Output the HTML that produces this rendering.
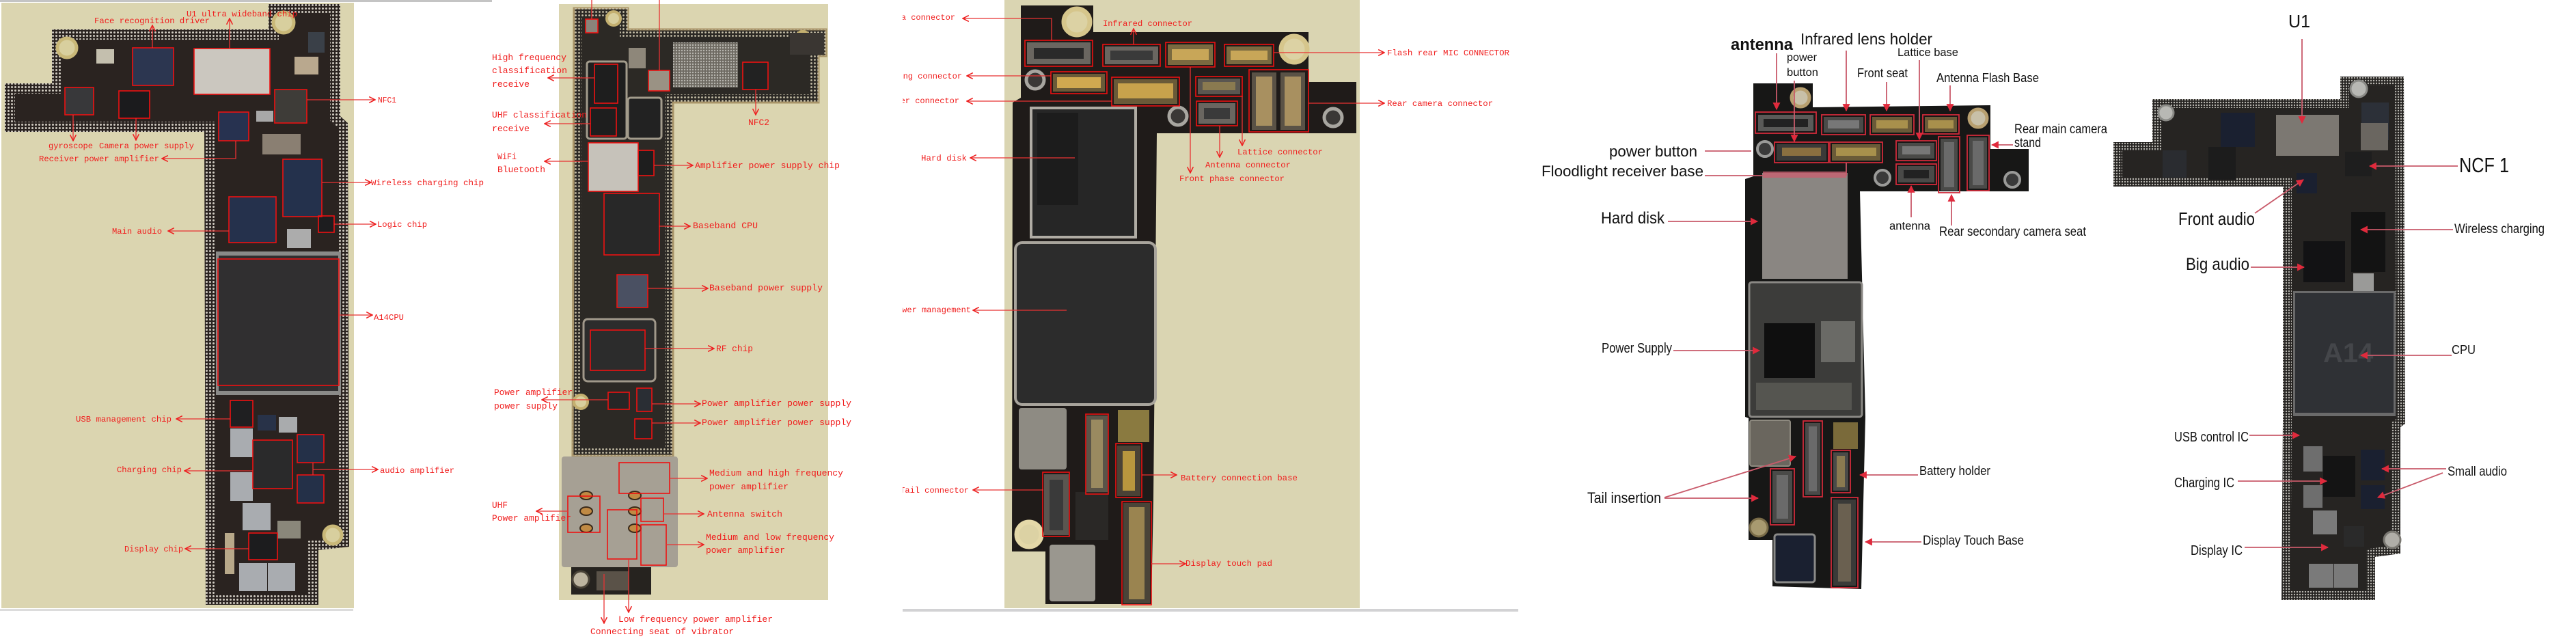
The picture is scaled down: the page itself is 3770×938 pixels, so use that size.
<!DOCTYPE html>
<html><head><meta charset="utf-8"><style>
html,body{margin:0;padding:0;background:#fff;}
svg{display:block;}
.r{font-family:"Liberation Mono",monospace;fill:#f01c1c;font-size:12px;}
.r13{font-family:"Liberation Mono",monospace;fill:#f01c1c;font-size:13px;}
.k{font-family:"Liberation Sans Narrow","Liberation Sans",sans-serif;fill:#111;}
.ln{stroke:#e83232;stroke-width:1.3;fill:none;}
.pk{stroke:#c85a6a;stroke-width:1.8;fill:none;}
.bx{fill:none;stroke:#ee1111;stroke-width:1.6;}
.bx2{fill:none;stroke:#d02a3a;stroke-width:1.8;}
</style></head><body>
<svg width="3770" height="938" viewBox="0 0 3770 938" xmlns="http://www.w3.org/2000/svg">
<defs>
<marker id="m" viewBox="0 0 10 10" refX="9" refY="5" markerWidth="11" markerHeight="11" markerUnits="userSpaceOnUse" orient="auto"><path d="M1,1L9,5L1,9" fill="none" stroke="#ee2020" stroke-width="1.4"/></marker>
<marker id="t" viewBox="0 0 10 10" refX="9" refY="5" markerWidth="11" markerHeight="11" markerUnits="userSpaceOnUse" orient="auto"><path d="M0,0L10,5L0,10z" fill="#e02a3c"/></marker>
<pattern id="dots" width="5" height="5" patternUnits="userSpaceOnUse"><circle cx="2.5" cy="2.5" r="1.5" fill="#cfcac0"/></pattern>
<pattern id="dots2" width="5" height="5" patternUnits="userSpaceOnUse"><circle cx="2.5" cy="2.5" r="1.4" fill="#c6bfa8"/></pattern>
<pattern id="dots3" width="4" height="4" patternUnits="userSpaceOnUse"><circle cx="2" cy="2" r="1.2" fill="#b8b6b0"/></pattern>
<clipPath id="c1"><polygon points="393,6 498,6 498,170 509,180 511,800 466,805 466,885 301,885 299,193 7,193 7,122 76,122 76,43 393,43"/></clipPath>
<clipPath id="c2"><polygon points="845,12 919,12 919,43 1209,43 1209,82 1198,82 1198,150 985,150 985,667 838,667 840,12"/></clipPath>
<clipPath id="cB"><polygon points="3425,112 3518,112 3520,620 3513,625 3513,810 3476,815 3476,878 3339,878 3341,617 3341,273 3093,273 3093,208 3150,208 3150,145 3425,145"/></clipPath>
<clipPath id="cl3"><rect x="1321" y="0" width="700" height="938"/></clipPath>
</defs>

<!-- ============ PANEL 1 ============ -->
<rect x="0" y="0" width="720" height="3" fill="#c4c4c4"/>
<rect x="2" y="4" width="516" height="886" fill="#dbd5b0"/>
<rect x="0" y="891" width="517" height="3" fill="#dcdcdc"/>
<polygon points="393,6 498,6 498,170 509,180 511,800 466,805 466,885 301,885 299,193 7,193 7,122 76,122 76,43 393,43" fill="#2a2320"/>
<polygon points="393,6 498,6 498,170 509,180 511,800 466,805 466,885 301,885 299,193 7,193 7,122 76,122 76,43 393,43" fill="none" stroke="url(#dots)" stroke-width="30" clip-path="url(#c1)"/>
<circle cx="98" cy="70" r="14" fill="#d8cf9e" stroke="#c9b878" stroke-width="5"/>
<circle cx="415" cy="33" r="15" fill="#d8cf9e" stroke="#c9b878" stroke-width="5"/>
<circle cx="487" cy="783" r="13" fill="#d8cf9e" stroke="#c9b878" stroke-width="5"/>
<!-- chips -->
<rect x="141" y="72" width="26" height="21" fill="#c4bfae"/>
<rect x="194" y="70" width="60" height="55" fill="#2c3650"/>
<rect x="284" y="71" width="111" height="67" fill="#cbc7bf"/>
<rect x="451" y="47" width="24" height="30" fill="#3a4048"/>
<rect x="431" y="83" width="35" height="26" fill="#b9a88e"/>
<rect x="95" y="128" width="42" height="40" fill="#38383a"/>
<rect x="174" y="133" width="45" height="40" fill="#1b1b1d"/>
<rect x="402" y="131" width="47" height="49" fill="#3e3c38"/>
<rect x="375" y="162" width="25" height="16" fill="#a8a8a8"/>
<rect x="320" y="164" width="44" height="42" fill="#273250"/>
<rect x="384" y="196" width="56" height="30" fill="#8a7f72"/>
<rect x="414" y="233" width="57" height="84" fill="#24314c"/>
<rect x="466" y="316" width="23" height="24" fill="#1d1d1f"/>
<rect x="335" y="288" width="69" height="67" fill="#25314c"/>
<rect x="420" y="335" width="35" height="28" fill="#acacac"/>
<rect x="316" y="368" width="183" height="210" fill="#8a8a88"/>
<rect x="320" y="374" width="175" height="198" fill="#302f30"/>
<rect x="337" y="586" width="33" height="39" fill="#1f1f21"/>
<rect x="377" y="607" width="27" height="23" fill="#283248"/>
<rect x="408" y="610" width="27" height="23" fill="#a9abad"/>
<rect x="337" y="627" width="33" height="42" fill="#a9acb0"/>
<rect x="370" y="644" width="58" height="71" fill="#2a2a2b"/>
<rect x="435" y="636" width="39" height="41" fill="#243048"/>
<rect x="435" y="695" width="39" height="41" fill="#243048"/>
<rect x="337" y="691" width="33" height="42" fill="#a9acb0"/>
<rect x="355" y="736" width="41" height="40" fill="#a9acb0"/>
<rect x="406" y="762" width="34" height="26" fill="#8a877a"/>
<rect x="364" y="780" width="42" height="39" fill="#1c1c1e"/>
<rect x="329" y="780" width="14" height="60" fill="#b8a98a"/>
<rect x="350" y="824" width="41" height="41" fill="#a9acb0"/>
<rect x="392" y="824" width="40" height="41" fill="#a9acb0"/>
<!-- red boxes -->
<rect class="bx" x="194" y="70" width="60" height="55"/>
<rect class="bx" x="284" y="71" width="111" height="67"/>
<rect class="bx" x="95" y="128" width="42" height="40"/>
<rect class="bx" x="174" y="133" width="45" height="40"/>
<rect class="bx" x="402" y="131" width="47" height="49"/>
<rect class="bx" x="320" y="164" width="44" height="42"/>
<rect class="bx" x="414" y="233" width="57" height="84"/>
<rect class="bx" x="466" y="316" width="23" height="24"/>
<rect class="bx" x="335" y="288" width="69" height="67"/>
<rect class="bx" x="319" y="379" width="177" height="185"/>
<rect class="bx" x="337" y="586" width="33" height="39"/>
<rect class="bx" x="370" y="644" width="58" height="71"/>
<rect class="bx" x="435" y="636" width="39" height="41"/>
<rect class="bx" x="435" y="695" width="39" height="41"/>
<rect class="bx" x="364" y="780" width="42" height="39"/>
<!-- lines -->
<line class="ln" x1="223" y1="70" x2="223" y2="37" marker-end="url(#m)"/>
<line class="ln" x1="336" y1="71" x2="336" y2="27" marker-end="url(#m)"/>
<line class="ln" x1="107" y1="168" x2="107" y2="206" marker-end="url(#m)"/>
<line class="ln" x1="199" y1="173" x2="199" y2="205" marker-end="url(#m)"/>
<polyline class="ln" points="345,206 345,232 237,232" marker-end="url(#m)"/>
<line class="ln" x1="449" y1="146" x2="549" y2="146" marker-end="url(#m)"/>
<line class="ln" x1="471" y1="267" x2="543" y2="267" marker-end="url(#m)"/>
<line class="ln" x1="489" y1="328" x2="550" y2="328" marker-end="url(#m)"/>
<line class="ln" x1="335" y1="338" x2="246" y2="338" marker-end="url(#m)"/>
<line class="ln" x1="496" y1="461" x2="545" y2="461" marker-end="url(#m)"/>
<line class="ln" x1="337" y1="613" x2="258" y2="613" marker-end="url(#m)"/>
<line class="ln" x1="370" y1="689" x2="270" y2="689" marker-end="url(#m)"/>
<line class="ln" x1="458" y1="677" x2="458" y2="695"/>
<line class="ln" x1="458" y1="687" x2="553" y2="687" marker-end="url(#m)"/>
<line class="ln" x1="364" y1="803" x2="271" y2="803" marker-end="url(#m)"/>
<!-- labels -->
<text class="r" x="138" y="34" textLength="169" lengthAdjust="spacingAndGlyphs">Face recognition driver</text>
<text class="r" x="273" y="24" textLength="162" lengthAdjust="spacingAndGlyphs">U1 ultra wideband chip</text>
<text class="r" x="71" y="217" textLength="65" lengthAdjust="spacingAndGlyphs">gyroscope</text>
<text class="r" x="145" y="217" textLength="139" lengthAdjust="spacingAndGlyphs">Camera power supply</text>
<text class="r" x="57" y="236" textLength="176" lengthAdjust="spacingAndGlyphs">Receiver power amplifier</text>
<text class="r" x="553" y="150" textLength="27" lengthAdjust="spacingAndGlyphs">NFC1</text>
<text class="r" x="543" y="271" textLength="165" lengthAdjust="spacingAndGlyphs">Wireless charging chip</text>
<text class="r" x="552" y="332" textLength="73" lengthAdjust="spacingAndGlyphs">Logic chip</text>
<text class="r" x="164" y="342" textLength="73" lengthAdjust="spacingAndGlyphs">Main audio</text>
<text class="r" x="547" y="468" textLength="44" lengthAdjust="spacingAndGlyphs">A14CPU</text>
<text class="r" x="111" y="617" textLength="140" lengthAdjust="spacingAndGlyphs">USB management chip</text>
<text class="r" x="171" y="691" textLength="95" lengthAdjust="spacingAndGlyphs">Charging chip</text>
<text class="r" x="556" y="692" textLength="109" lengthAdjust="spacingAndGlyphs">audio amplifier</text>
<text class="r" x="182" y="807" textLength="86" lengthAdjust="spacingAndGlyphs">Display chip</text>

<!-- ============ PANEL 2 ============ -->
<rect x="818" y="6" width="394" height="872" fill="#dbd5b0"/>
<polygon points="845,12 919,12 919,43 1209,43 1209,82 1198,82 1198,150 985,150 985,667 838,667 840,12" fill="#2c2925" stroke="#a89468" stroke-width="3"/>
<polygon points="845,12 919,12 919,43 1209,43 1209,82 1198,82 1198,150 985,150 985,667 838,667 840,12" fill="none" stroke="url(#dots2)" stroke-width="24" clip-path="url(#c2)"/>
<circle cx="898" cy="27" r="10" fill="#d8cf9e" stroke="#c4b070" stroke-width="4"/>
<circle cx="1175" cy="56" r="10" fill="#d8cf9e" stroke="#c4b070" stroke-width="4"/>
<rect x="985" y="62" width="95" height="66" fill="#6e6a62"/>
<rect x="985" y="62" width="95" height="66" fill="url(#dots3)"/>
<rect x="1156" y="48" width="50" height="32" fill="#3a3632"/>
<rect x="857" y="28" width="18" height="20" fill="#8a847a"/>
<rect x="859" y="90" width="58" height="113" rx="4" fill="#1e1e1e" stroke="#a39c8c" stroke-width="3"/>
<rect x="919" y="143" width="49" height="60" rx="4" fill="#222" stroke="#a39c8c" stroke-width="3"/>
<rect x="949" y="103" width="31" height="30" fill="#9a9284"/>
<rect x="920" y="70" width="25" height="30" fill="#8e877a"/>
<rect x="1087" y="91" width="37" height="40" fill="#222"/>
<rect x="861" y="209" width="73" height="71" fill="#c6c2ba"/>
<rect x="934" y="220" width="23" height="37" fill="#1e1e1e"/>
<rect x="884" y="283" width="81" height="90" fill="#282828"/>
<rect x="903" y="402" width="45" height="48" fill="#4a5062"/>
<rect x="854" y="467" width="105" height="91" rx="6" fill="#2c2c2c" stroke="#a0988a" stroke-width="3"/>
<circle cx="850" cy="588" r="10" fill="#d8cf9e" stroke="#c4b070" stroke-width="4"/>
<rect x="890" y="574" width="31" height="25" fill="#262626"/>
<rect x="932" y="568" width="22" height="34" fill="#2a2e34"/>
<rect x="929" y="613" width="25" height="29" fill="#262626"/>
<rect x="822" y="668" width="170" height="162" rx="4" fill="#a6a094"/>
<ellipse cx="858" cy="725" rx="9" ry="6" fill="#c08a44" stroke="#3a2a1a" stroke-width="2"/>
<ellipse cx="858" cy="748" rx="9" ry="6" fill="#c08a44" stroke="#3a2a1a" stroke-width="2"/>
<ellipse cx="858" cy="773" rx="9" ry="6" fill="#c08a44" stroke="#3a2a1a" stroke-width="2"/>
<ellipse cx="929" cy="725" rx="9" ry="6" fill="#c08a44" stroke="#3a2a1a" stroke-width="2"/>
<ellipse cx="929" cy="748" rx="9" ry="6" fill="#c08a44" stroke="#3a2a1a" stroke-width="2"/>
<ellipse cx="929" cy="773" rx="9" ry="6" fill="#c08a44" stroke="#3a2a1a" stroke-width="2"/>
<rect x="836" y="830" width="117" height="40" fill="#26231f"/>
<rect x="873" y="836" width="47" height="28" fill="#5a5248"/>
<circle cx="850" cy="848" r="12" fill="#bdb5a0" stroke="#4a4438" stroke-width="3"/>
<!-- red boxes -->
<rect class="bx" x="857" y="28" width="18" height="20"/>
<rect class="bx" x="870" y="94" width="34" height="57"/>
<rect class="bx" x="864" y="158" width="38" height="41"/>
<rect class="bx" x="949" y="103" width="31" height="30"/>
<rect class="bx" x="1087" y="91" width="37" height="40"/>
<rect class="bx" x="861" y="209" width="73" height="71"/>
<rect class="bx" x="934" y="220" width="23" height="37"/>
<rect class="bx" x="884" y="283" width="81" height="90"/>
<rect class="bx" x="903" y="402" width="45" height="48"/>
<rect class="bx" x="864" y="483" width="80" height="59"/>
<rect class="bx" x="890" y="574" width="31" height="25"/>
<rect class="bx" x="932" y="568" width="22" height="34"/>
<rect class="bx" x="929" y="613" width="25" height="29"/>
<rect class="bx" x="906" y="677" width="74" height="45"/>
<rect class="bx" x="831" y="726" width="47" height="53"/>
<rect class="bx" x="938" y="729" width="33" height="34"/>
<rect class="bx" x="889" y="746" width="43" height="72"/>
<rect class="bx" x="938" y="768" width="37" height="59"/>
<!-- lines -->
<line class="ln" x1="866" y1="28" x2="866" y2="0"/>
<line class="ln" x1="965" y1="103" x2="965" y2="0"/>
<line class="ln" x1="870" y1="114" x2="802" y2="114" marker-end="url(#m)"/>
<line class="ln" x1="864" y1="181" x2="797" y2="181" marker-end="url(#m)"/>
<line class="ln" x1="861" y1="236" x2="797" y2="236" marker-end="url(#m)"/>
<line class="ln" x1="957" y1="242" x2="1014" y2="242" marker-end="url(#m)"/>
<line class="ln" x1="1106" y1="131" x2="1106" y2="168" marker-end="url(#m)"/>
<line class="ln" x1="965" y1="331" x2="1010" y2="331" marker-end="url(#m)"/>
<line class="ln" x1="948" y1="422" x2="1036" y2="422" marker-end="url(#m)"/>
<line class="ln" x1="944" y1="510" x2="1045" y2="510" marker-end="url(#m)"/>
<line class="ln" x1="890" y1="585" x2="793" y2="585" marker-end="url(#m)"/>
<line class="ln" x1="954" y1="591" x2="1025" y2="591" marker-end="url(#m)"/>
<line class="ln" x1="954" y1="619" x2="1025" y2="619" marker-end="url(#m)"/>
<line class="ln" x1="980" y1="700" x2="1035" y2="700" marker-end="url(#m)"/>
<line class="ln" x1="831" y1="748" x2="785" y2="748" marker-end="url(#m)"/>
<line class="ln" x1="971" y1="752" x2="1030" y2="752" marker-end="url(#m)"/>
<line class="ln" x1="975" y1="797" x2="1030" y2="797" marker-end="url(#m)"/>
<line class="ln" x1="920" y1="818" x2="920" y2="896" marker-end="url(#m)"/>
<line class="ln" x1="884" y1="840" x2="884" y2="912" marker-end="url(#m)"/>
<!-- labels -->
<text class="r13" x="720" y="88" textLength="109" lengthAdjust="spacingAndGlyphs">High frequency</text>
<text class="r13" x="720" y="107" textLength="110" lengthAdjust="spacingAndGlyphs">classification</text>
<text class="r13" x="720" y="127" textLength="55" lengthAdjust="spacingAndGlyphs">receive</text>
<text class="r13" x="720" y="172" textLength="139" lengthAdjust="spacingAndGlyphs">UHF classification</text>
<text class="r13" x="720" y="192" textLength="55" lengthAdjust="spacingAndGlyphs">receive</text>
<text class="r13" x="728" y="233" textLength="28" lengthAdjust="spacingAndGlyphs">WiFi</text>
<text class="r13" x="728" y="252" textLength="70" lengthAdjust="spacingAndGlyphs">Bluetooth</text>
<text class="r13" x="1017" y="246" textLength="212" lengthAdjust="spacingAndGlyphs">Amplifier power supply chip</text>
<text class="r13" x="1095" y="183" textLength="31" lengthAdjust="spacingAndGlyphs">NFC2</text>
<text class="r13" x="1014" y="334" textLength="95" lengthAdjust="spacingAndGlyphs">Baseband CPU</text>
<text class="r13" x="1038" y="425" textLength="166" lengthAdjust="spacingAndGlyphs">Baseband power supply</text>
<text class="r13" x="1048" y="514" textLength="54" lengthAdjust="spacingAndGlyphs">RF chip</text>
<text class="r13" x="723" y="578" textLength="115" lengthAdjust="spacingAndGlyphs">Power amplifier</text>
<text class="r13" x="723" y="598" textLength="93" lengthAdjust="spacingAndGlyphs">power supply</text>
<text class="r13" x="1027" y="594" textLength="219" lengthAdjust="spacingAndGlyphs">Power amplifier power supply</text>
<text class="r13" x="1027" y="622" textLength="219" lengthAdjust="spacingAndGlyphs">Power amplifier power supply</text>
<text class="r13" x="1038" y="696" textLength="196" lengthAdjust="spacingAndGlyphs">Medium and high frequency</text>
<text class="r13" x="1038" y="716" textLength="116" lengthAdjust="spacingAndGlyphs">power amplifier</text>
<text class="r13" x="720" y="743" textLength="23" lengthAdjust="spacingAndGlyphs">UHF</text>
<text class="r13" x="720" y="762" textLength="116" lengthAdjust="spacingAndGlyphs">Power amplifier</text>
<text class="r13" x="1035" y="756" textLength="110" lengthAdjust="spacingAndGlyphs">Antenna switch</text>
<text class="r13" x="1033" y="790" textLength="188" lengthAdjust="spacingAndGlyphs">Medium and low frequency</text>
<text class="r13" x="1033" y="809" textLength="116" lengthAdjust="spacingAndGlyphs">power amplifier</text>
<text class="r13" x="905" y="910" textLength="226" lengthAdjust="spacingAndGlyphs">Low frequency power amplifier</text>
<text class="r13" x="864" y="928" textLength="210" lengthAdjust="spacingAndGlyphs">Connecting seat of vibrator</text>

<!-- ============ PANEL 3 ============ -->
<rect x="1470" y="0" width="520" height="890" fill="#dad5b2"/>
<rect x="1321" y="891" width="901" height="4" fill="#d2d2d4"/>
<polygon points="1494,8 1600,8 1600,47 1915,47 1915,120 1985,120 1985,195 1693,195 1688,730 1685,884 1530,884 1530,807 1481,807 1482,150 1494,143" fill="#1f1b19"/>
<circle cx="1576" cy="32" r="19" fill="#dcd2a4" stroke="#d6c68c" stroke-width="7"/>
<circle cx="1894" cy="72" r="19" fill="#dcd2a4" stroke="#d6c68c" stroke-width="7"/>
<circle cx="1506" cy="782" r="18" fill="#dcd2a4" stroke="#e4d8a8" stroke-width="7"/>
<circle cx="1515" cy="117" r="13" fill="#3a3836" stroke="#a8a6a0" stroke-width="5"/>
<circle cx="1724" cy="170" r="13" fill="#3a3836" stroke="#a8a6a0" stroke-width="5"/>
<circle cx="1951" cy="172" r="13" fill="#3a3836" stroke="#a8a6a0" stroke-width="5"/>
<rect x="1509" y="158" width="153" height="189" fill="#262626" stroke="#b0aca4" stroke-width="4"/>
<rect x="1518" y="165" width="60" height="135" fill="#1c1c1c"/>
<rect x="1486" y="355" width="205" height="237" rx="10" fill="#2c2c2c" stroke="#a8a49c" stroke-width="4"/>
<!-- connectors top -->
<rect x="1503" y="62" width="93" height="32" fill="#6a6660"/><rect x="1513" y="70" width="73" height="16" fill="#2a2a2a"/>
<rect x="1617" y="68" width="78" height="26" fill="#6a6660"/><rect x="1625" y="74" width="62" height="14" fill="#3a3a3a"/>
<rect x="1709" y="65" width="66" height="30" fill="#7a6a40"/><rect x="1715" y="72" width="54" height="16" fill="#c8a658"/>
<rect x="1795" y="68" width="66" height="26" fill="#7a6a40"/><rect x="1801" y="74" width="54" height="14" fill="#c8a658"/>
<rect x="1541" y="108" width="76" height="26" fill="#6a5a38"/><rect x="1547" y="113" width="64" height="16" fill="#d0a850"/>
<rect x="1630" y="116" width="93" height="36" fill="#6a5a38"/><rect x="1636" y="122" width="81" height="22" fill="#c8a24c"/>
<rect x="1753" y="115" width="62" height="23" fill="#5a5650"/><rect x="1760" y="120" width="48" height="12" fill="#8a7a50"/>
<rect x="1754" y="151" width="54" height="30" fill="#6a6660"/><rect x="1762" y="158" width="38" height="16" fill="#3a3a3a"/>
<rect x="1832" y="106" width="36" height="84" fill="#5a5246"/><rect x="1838" y="112" width="24" height="72" fill="#a89060"/>
<rect x="1874" y="106" width="36" height="84" fill="#5a5246"/><rect x="1880" y="112" width="24" height="72" fill="#a89060"/>
<!-- lower parts -->
<rect x="1491" y="597" width="70" height="90" rx="4" fill="#8e8b83"/>
<rect x="1590" y="608" width="31" height="113" fill="#5a5448"/><rect x="1597" y="614" width="17" height="100" fill="#9a8a60"/>
<rect x="1636" y="600" width="46" height="47" fill="#8a7a40"/>
<rect x="1635" y="652" width="34" height="74" fill="#4a4236"/><rect x="1643" y="660" width="18" height="58" fill="#b8963e"/>
<rect x="1528" y="694" width="36" height="89" fill="#5a5650"/><rect x="1536" y="702" width="20" height="74" fill="#3a3a3a"/>
<rect x="1574" y="720" width="48" height="70" fill="#2a2826"/>
<rect x="1536" y="797" width="67" height="83" rx="4" fill="#9a978f"/>
<rect x="1644" y="736" width="39" height="147" fill="#4a4438"/><rect x="1652" y="742" width="23" height="135" fill="#9a8450"/>
<!-- red boxes -->
<rect class="bx" x="1500" y="59" width="99" height="38"/>
<rect class="bx" x="1614" y="65" width="84" height="32"/>
<rect class="bx" x="1706" y="62" width="72" height="36"/>
<rect class="bx" x="1792" y="65" width="72" height="32"/>
<rect class="bx" x="1538" y="105" width="82" height="32"/>
<rect class="bx" x="1627" y="113" width="99" height="42"/>
<rect class="bx" x="1750" y="112" width="68" height="29"/>
<rect class="bx" x="1751" y="148" width="60" height="36"/>
<rect class="bx" x="1828" y="102" width="87" height="91"/>
<rect class="bx" x="1589" y="606" width="33" height="117"/>
<rect class="bx" x="1633" y="649" width="38" height="79"/>
<rect class="bx" x="1526" y="691" width="39" height="94"/>
<rect class="bx" x="1642" y="734" width="43" height="151"/>
<!-- lines -->
<polyline class="ln" points="1539,59 1539,27 1409,27" marker-end="url(#m)"/>
<line class="ln" x1="1538" y1="111" x2="1415" y2="111" marker-end="url(#m)"/>
<line class="ln" x1="1627" y1="148" x2="1415" y2="148" marker-end="url(#m)"/>
<line class="ln" x1="1573" y1="231" x2="1420" y2="231" marker-end="url(#m)"/>
<line class="ln" x1="1561" y1="454" x2="1424" y2="454" marker-end="url(#m)"/>
<line class="ln" x1="1527" y1="717" x2="1424" y2="717" marker-end="url(#m)"/>
<line class="ln" x1="1659" y1="65" x2="1659" y2="42" marker-end="url(#m)"/>
<line class="ln" x1="1864" y1="77" x2="2026" y2="77" marker-end="url(#m)"/>
<line class="ln" x1="1915" y1="151" x2="2026" y2="151" marker-end="url(#m)"/>
<line class="ln" x1="1818" y1="141" x2="1818" y2="213" marker-end="url(#m)"/>
<line class="ln" x1="1785" y1="184" x2="1785" y2="230" marker-end="url(#m)"/>
<line class="ln" x1="1742" y1="98" x2="1742" y2="253" marker-end="url(#m)"/>
<line class="ln" x1="1671" y1="695" x2="1722" y2="695" marker-end="url(#m)"/>
<line class="ln" x1="1685" y1="825" x2="1735" y2="825" marker-end="url(#m)"/>
<!-- labels -->
<g clip-path="url(#cl3)">
<text class="r" x="1398" y="29" text-anchor="end">Camera connector</text>
<text class="r" x="1408" y="115" text-anchor="end">Charging connector</text>
<text class="r" x="1404" y="151" text-anchor="end">Speaker connector</text>
<text class="r" x="1421" y="457" text-anchor="end">Power management</text>
<text class="r" x="1418" y="721" text-anchor="end">Tail connector</text>
</g>
<text class="r" x="1348" y="235" textLength="67" lengthAdjust="spacingAndGlyphs">Hard disk</text>
<text class="r" x="1614" y="38" textLength="131" lengthAdjust="spacingAndGlyphs">Infrared connector</text>
<text class="r" x="2030" y="81" textLength="179" lengthAdjust="spacingAndGlyphs">Flash rear MIC CONNECTOR</text>
<text class="r" x="2030" y="155" textLength="155" lengthAdjust="spacingAndGlyphs">Rear camera connector</text>
<text class="r" x="1811" y="226" textLength="125" lengthAdjust="spacingAndGlyphs">Lattice connector</text>
<text class="r" x="1764" y="245" textLength="125" lengthAdjust="spacingAndGlyphs">Antenna connector</text>
<text class="r" x="1726" y="265" textLength="154" lengthAdjust="spacingAndGlyphs">Front phase connector</text>
<text class="r" x="1728" y="703" textLength="171" lengthAdjust="spacingAndGlyphs">Battery connection base</text>
<text class="r" x="1735" y="828" textLength="127" lengthAdjust="spacingAndGlyphs">Display touch pad</text>

<!-- ============ PANEL 4 BOARD A ============ -->
<polygon points="2566,122 2653,122 2653,157 2913,154 2913,218 2969,218 2969,280 2722,280 2730,610 2724,862 2594,858 2594,790 2559,790 2559,612 2554,610 2554,262 2566,258" fill="#171716"/>
<circle cx="2635" cy="143" r="13" fill="#c8c0a8" stroke="#b8a070" stroke-width="5"/>
<circle cx="2895" cy="173" r="13" fill="#c8c0a8" stroke="#b8a070" stroke-width="5"/>
<circle cx="2583" cy="218" r="11" fill="#3a3a3a" stroke="#9a9a98" stroke-width="4"/>
<circle cx="2755" cy="260" r="11" fill="#3a3a3a" stroke="#9a9a98" stroke-width="4"/>
<circle cx="2945" cy="263" r="11" fill="#3a3a3a" stroke="#9a9a98" stroke-width="4"/>
<rect x="2579" y="253" width="125" height="155" fill="#8a8682"/>
<rect x="2580" y="251" width="122" height="9" fill="#c86070" opacity="0.8"/>
<rect x="2560" y="413" width="165" height="197" rx="4" fill="#3c3c3a" stroke="#8a8884" stroke-width="3"/>
<rect x="2582" y="473" width="74" height="80" fill="#0f0f0f"/>
<rect x="2665" y="470" width="50" height="60" fill="#6a6a66"/>
<rect x="2570" y="560" width="140" height="40" fill="#555550"/>
<rect x="2561" y="615" width="59" height="67" rx="3" fill="#6a665e" stroke="#8e8a80" stroke-width="2"/>
<rect x="2683" y="618" width="36" height="39" fill="#7a6a3a"/>
<rect x="2597" y="782" width="59" height="70" rx="4" fill="#1a2030" stroke="#8a8a88" stroke-width="3"/>
<circle cx="2574" cy="772" r="13" fill="#a89a70" stroke="#7a6c48" stroke-width="3"/>
<!-- connectors A -->
<rect x="2573" y="168" width="81" height="24" fill="#5a5a58"/><rect x="2581" y="174" width="65" height="12" fill="#222"/>
<rect x="2669" y="171" width="58" height="23" fill="#4a4a48"/><rect x="2675" y="176" width="46" height="12" fill="#777"/>
<rect x="2740" y="171" width="58" height="23" fill="#6a5a38"/><rect x="2746" y="176" width="46" height="12" fill="#a8904c"/>
<rect x="2817" y="171" width="47" height="22" fill="#6a5a38"/><rect x="2822" y="176" width="37" height="12" fill="#a8904c"/>
<rect x="2600" y="211" width="73" height="24" fill="#3a3a38"/><rect x="2608" y="216" width="57" height="12" fill="#8a7040"/>
<rect x="2681" y="211" width="71" height="24" fill="#6a5a38"/><rect x="2687" y="216" width="59" height="12" fill="#a8904c"/>
<rect x="2778" y="209" width="53" height="23" fill="#4a4a48"/><rect x="2784" y="214" width="41" height="12" fill="#777"/>
<rect x="2778" y="243" width="53" height="24" fill="#4a4a48"/><rect x="2786" y="249" width="37" height="12" fill="#222"/>
<rect x="2840" y="203" width="25" height="76" fill="#4a4a48"/><rect x="2845" y="208" width="15" height="66" fill="#6a6a6a"/>
<rect x="2882" y="201" width="26" height="75" fill="#4a4a48"/><rect x="2887" y="206" width="16" height="65" fill="#6a6a6a"/>
<rect x="2642" y="619" width="22" height="105" fill="#4a4a48"/><rect x="2647" y="624" width="12" height="95" fill="#6a6a6a"/>
<rect x="2683" y="662" width="22" height="56" fill="#4a4a48"/><rect x="2688" y="667" width="12" height="46" fill="#8a7a50"/>
<rect x="2683" y="731" width="33" height="126" fill="#3a3a38"/><rect x="2690" y="737" width="19" height="114" fill="#6a6050"/>
<rect x="2594" y="689" width="29" height="76" fill="#4a4a48"/><rect x="2600" y="695" width="17" height="64" fill="#6a6a6a"/>
<!-- boxes A -->
<rect class="bx2" x="2569" y="164" width="89" height="31"/>
<rect class="bx2" x="2666" y="168" width="64" height="29"/>
<rect class="bx2" x="2737" y="168" width="64" height="29"/>
<rect class="bx2" x="2814" y="168" width="53" height="28"/>
<rect class="bx2" x="2597" y="208" width="79" height="30"/>
<rect class="bx2" x="2678" y="208" width="77" height="30"/>
<rect class="bx2" x="2775" y="206" width="59" height="29"/>
<rect class="bx2" x="2775" y="240" width="59" height="30"/>
<rect class="bx2" x="2837" y="200" width="31" height="82"/>
<rect class="bx2" x="2879" y="198" width="32" height="81"/>
<rect class="bx2" x="2639" y="616" width="28" height="111"/>
<rect class="bx2" x="2680" y="659" width="28" height="62"/>
<rect class="bx2" x="2680" y="728" width="39" height="132"/>
<rect class="bx2" x="2591" y="686" width="35" height="82"/>
<!-- lines A -->
<line class="pk" x1="2600" y1="78" x2="2600" y2="160" marker-end="url(#t)"/>
<line class="pk" x1="2626" y1="118" x2="2626" y2="207" marker-end="url(#t)"/>
<line class="pk" x1="2702" y1="74" x2="2702" y2="162" marker-end="url(#t)"/>
<line class="pk" x1="2761" y1="120" x2="2761" y2="162" marker-end="url(#t)"/>
<line class="pk" x1="2809" y1="88" x2="2809" y2="204" marker-end="url(#t)"/>
<line class="pk" x1="2854" y1="125" x2="2854" y2="162" marker-end="url(#t)"/>
<line class="pk" x1="2946" y1="212" x2="2915" y2="212" marker-end="url(#t)"/>
<line class="pk" x1="2495" y1="221" x2="2563" y2="221"/>
<line class="pk" x1="2495" y1="257" x2="2580" y2="257"/>
<line class="pk" x1="2702" y1="238" x2="2702" y2="257"/>
<line class="pk" x1="2441" y1="324" x2="2572" y2="324" marker-end="url(#t)"/>
<line class="pk" x1="2797" y1="318" x2="2797" y2="272" marker-end="url(#t)"/>
<line class="pk" x1="2856" y1="330" x2="2856" y2="285" marker-end="url(#t)"/>
<line class="pk" x1="2449" y1="513" x2="2575" y2="513" marker-end="url(#t)"/>
<line class="pk" x1="2436" y1="728" x2="2628" y2="668" marker-end="url(#t)"/>
<line class="pk" x1="2436" y1="729" x2="2573" y2="729" marker-end="url(#t)"/>
<line class="pk" x1="2807" y1="695" x2="2722" y2="695" marker-end="url(#t)"/>
<line class="pk" x1="2812" y1="793" x2="2730" y2="793" marker-end="url(#t)"/>
<!-- labels A -->
<text class="k" x="2533" y="73" font-size="24" font-weight="bold" textLength="91" lengthAdjust="spacingAndGlyphs">antenna</text>
<text class="k" x="2635" y="65" font-size="23" textLength="193" lengthAdjust="spacingAndGlyphs">Infrared lens holder</text>
<text class="k" x="2615" y="89" font-size="16" textLength="44" lengthAdjust="spacingAndGlyphs">power</text>
<text class="k" x="2615" y="111" font-size="16" textLength="46" lengthAdjust="spacingAndGlyphs">button</text>
<text class="k" x="2777" y="82" font-size="17" textLength="89" lengthAdjust="spacingAndGlyphs">Lattice base</text>
<text class="k" x="2718" y="113" font-size="18" textLength="74" lengthAdjust="spacingAndGlyphs">Front seat</text>
<text class="k" x="2834" y="120" font-size="18" textLength="150" lengthAdjust="spacingAndGlyphs">Antenna Flash Base</text>
<text class="k" x="2948" y="195" font-size="19" textLength="136" lengthAdjust="spacingAndGlyphs">Rear main camera</text>
<text class="k" x="2948" y="215" font-size="19" textLength="39" lengthAdjust="spacingAndGlyphs">stand</text>
<text class="k" x="2355" y="229" font-size="22" textLength="129" lengthAdjust="spacingAndGlyphs">power button</text>
<text class="k" x="2256" y="258" font-size="22" textLength="237" lengthAdjust="spacingAndGlyphs">Floodlight receiver base</text>
<text class="k" x="2343" y="327" font-size="24" textLength="93" lengthAdjust="spacingAndGlyphs">Hard disk</text>
<text class="k" x="2765" y="336" font-size="17" textLength="60" lengthAdjust="spacingAndGlyphs">antenna</text>
<text class="k" x="2838" y="345" font-size="19" textLength="215" lengthAdjust="spacingAndGlyphs">Rear secondary camera seat</text>
<text class="k" x="2344" y="516" font-size="20" textLength="103" lengthAdjust="spacingAndGlyphs">Power Supply</text>
<text class="k" x="2323" y="736" font-size="22" textLength="108" lengthAdjust="spacingAndGlyphs">Tail insertion</text>
<text class="k" x="2809" y="695" font-size="18" textLength="104" lengthAdjust="spacingAndGlyphs">Battery holder</text>
<text class="k" x="2814" y="797" font-size="19" textLength="148" lengthAdjust="spacingAndGlyphs">Display Touch Base</text>

<!-- ============ PANEL 4 BOARD B ============ -->
<polygon points="3425,112 3518,112 3520,620 3513,625 3513,810 3476,815 3476,878 3339,878 3341,617 3341,273 3093,273 3093,208 3150,208 3150,145 3425,145" fill="#262422"/>
<polygon points="3425,112 3518,112 3520,620 3513,625 3513,810 3476,815 3476,878 3339,878 3341,617 3341,273 3093,273 3093,208 3150,208 3150,145 3425,145" fill="none" stroke="url(#dots3)" stroke-width="26" clip-path="url(#cB)"/>
<circle cx="3452" cy="130" r="12" fill="#b8b8b4" stroke="#8a8a86" stroke-width="3"/>
<circle cx="3170" cy="165" r="11" fill="#b8b8b4" stroke="#8a8a86" stroke-width="3"/>
<circle cx="3501" cy="790" r="12" fill="#b0aea8" stroke="#7a7872" stroke-width="3"/>
<rect x="3331" y="168" width="92" height="60" fill="#7c7872"/>
<rect x="3250" y="165" width="50" height="50" fill="#1a2030"/>
<rect x="3165" y="220" width="35" height="40" fill="#2a2c30"/>
<rect x="3232" y="215" width="40" height="48" fill="#1c1c1c"/>
<rect x="3456" y="150" width="40" height="55" fill="#2c3038"/>
<rect x="3455" y="180" width="40" height="40" fill="#6a6660"/>
<rect x="3432" y="222" width="39" height="36" fill="#1e1e1e"/>
<rect x="3361" y="253" width="30" height="30" fill="#1a2030"/>
<rect x="3441" y="310" width="50" height="88" fill="#131313"/>
<rect x="3371" y="353" width="61" height="60" fill="#121214"/>
<rect x="3444" y="400" width="30" height="28" fill="#9a9a98"/>
<rect x="3356" y="426" width="150" height="183" fill="#6a6a6a"/>
<rect x="3359" y="429" width="144" height="175" fill="#2f3135"/>
<text x="3400" y="530" font-family="Liberation Sans,sans-serif" font-size="40" font-weight="bold" fill="#44464a">A14</text>
<rect x="3371" y="653" width="28" height="37" fill="#6e6e6e"/>
<rect x="3371" y="710" width="28" height="33" fill="#6e6e6e"/>
<rect x="3400" y="667" width="47" height="60" fill="#141414"/>
<rect x="3455" y="658" width="35" height="45" fill="#1a2030"/>
<rect x="3455" y="710" width="35" height="35" fill="#1a2030"/>
<rect x="3385" y="747" width="35" height="35" fill="#7a7a7a"/>
<rect x="3430" y="770" width="30" height="30" fill="#2a2a2a"/>
<rect x="3379" y="825" width="36" height="35" fill="#7a7a7a"/>
<rect x="3416" y="825" width="35" height="35" fill="#7a7a7a"/>
<!-- lines B -->
<line class="pk" x1="3369" y1="57" x2="3369" y2="180" marker-end="url(#t)"/>
<line class="pk" x1="3597" y1="243" x2="3468" y2="243" marker-end="url(#t)"/>
<line class="pk" x1="3300" y1="312" x2="3371" y2="263" marker-end="url(#t)"/>
<line class="pk" x1="3590" y1="336" x2="3455" y2="336" marker-end="url(#t)"/>
<line class="pk" x1="3294" y1="391" x2="3372" y2="391" marker-end="url(#t)"/>
<line class="pk" x1="3588" y1="520" x2="3455" y2="520" marker-end="url(#t)"/>
<line class="pk" x1="3292" y1="637" x2="3365" y2="637" marker-end="url(#t)"/>
<line class="pk" x1="3580" y1="686" x2="3486" y2="686" marker-end="url(#t)"/>
<line class="pk" x1="3575" y1="692" x2="3480" y2="728" marker-end="url(#t)"/>
<line class="pk" x1="3275" y1="704" x2="3405" y2="704" marker-end="url(#t)"/>
<line class="pk" x1="3285" y1="801" x2="3407" y2="801" marker-end="url(#t)"/>
<!-- labels B -->
<text class="k" x="3349" y="40" font-size="26" textLength="32" lengthAdjust="spacingAndGlyphs">U1</text>
<text class="k" x="3599" y="252" font-size="31" textLength="73" lengthAdjust="spacingAndGlyphs">NCF 1</text>
<text class="k" x="3188" y="329" font-size="26" textLength="112" lengthAdjust="spacingAndGlyphs">Front audio</text>
<text class="k" x="3592" y="341" font-size="19" textLength="132" lengthAdjust="spacingAndGlyphs">Wireless charging</text>
<text class="k" x="3199" y="395" font-size="25" textLength="93" lengthAdjust="spacingAndGlyphs">Big audio</text>
<text class="k" x="3588" y="518" font-size="18" textLength="35" lengthAdjust="spacingAndGlyphs">CPU</text>
<text class="k" x="3182" y="646" font-size="20" textLength="109" lengthAdjust="spacingAndGlyphs">USB control IC</text>
<text class="k" x="3582" y="696" font-size="19" textLength="87" lengthAdjust="spacingAndGlyphs">Small audio</text>
<text class="k" x="3182" y="713" font-size="20" textLength="88" lengthAdjust="spacingAndGlyphs">Charging IC</text>
<text class="k" x="3206" y="812" font-size="20" textLength="76" lengthAdjust="spacingAndGlyphs">Display IC</text>
</svg>
</body></html>
